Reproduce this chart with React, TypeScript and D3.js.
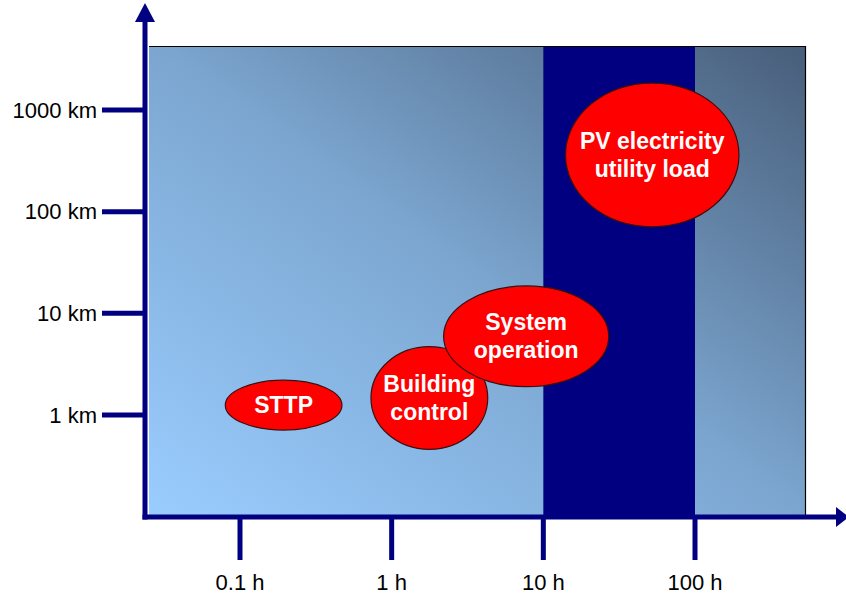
import React, { useEffect, useRef } from 'react';
import * as d3 from 'd3';

// time axis (hours) and distance axis (km), both logarithmic
const timeTicks = [0.1, 1, 10, 100];
const timeLabels = ['0.1 h', '1 h', '10 h', '100 h'];
const distTicks = [1, 10, 100, 1000];
const distLabels = ['1 km', '10 km', '100 km', '1000 km'];

// highlighted time band (hours)
const bandRange = [10, 100];

// application areas: extent in hours and km
const areaNames = [['STTP'], ['Building', 'control'], ['System', 'operation'], ['PV electricity', 'utility load']];
const areaTime = [[0.08, 0.47], [0.73, 4.3], [2.2, 27], [14, 195]];
const areaDist = [[0.71, 2.2], [0.46, 4.7], [1.9, 18.6], [71, 1840]];

const App: React.FC = () => {
  const svgRef = useRef<SVGSVGElement>(null);

  useEffect(() => {
    if (!svgRef.current) return;
    const width = 846;
    const height = 596;
    const navy = '#000080';
    const font = '"Liberation Sans", Arial, sans-serif';

    const svg = d3.select(svgRef.current);
    svg.selectAll('*').remove();

    const x = d3.scaleLog().domain([0.1, 100]).range([240, 695]);
    const y = d3.scaleLog().domain([1, 1000]).range([415, 110]);

    const left = 149;
    const right = 805;
    const top = 46;
    const bottom = 517;

    const defs = svg.append('defs');
    const grad = defs.append('linearGradient')
      .attr('id', 'bg')
      .attr('x1', 0).attr('y1', 1)
      .attr('x2', 1).attr('y2', 0);
    grad.append('stop').attr('offset', '0%').attr('stop-color', '#9acdff');
    grad.append('stop').attr('offset', '50%').attr('stop-color', '#7ca6d0');
    grad.append('stop').attr('offset', '100%').attr('stop-color', '#485e7a');

    // plot background
    svg.append('rect')
      .attr('x', left)
      .attr('y', top)
      .attr('width', right - left)
      .attr('height', bottom - top)
      .attr('fill', 'url(#bg)');

    // time band
    svg.append('rect')
      .attr('x', x(bandRange[0]))
      .attr('y', top)
      .attr('width', x(bandRange[1]) - x(bandRange[0]))
      .attr('height', bottom - top)
      .attr('fill', navy);

    // top and right frame
    svg.append('path')
      .attr('d', `M${left},${top + 0.5}H${right + 0.5}V${bottom}`)
      .attr('fill', 'none')
      .attr('stroke', '#000')
      .attr('stroke-width', 1.2);

    // ellipses
    const g = svg.append('g');
    areaNames.forEach((lines, i) => {
      const x0 = x(areaTime[i][0]);
      const x1 = x(areaTime[i][1]);
      const y0 = y(areaDist[i][1]);
      const y1 = y(areaDist[i][0]);
      const cx = (x0 + x1) / 2;
      const cy = (y0 + y1) / 2;
      g.append('ellipse')
        .attr('cx', cx)
        .attr('cy', cy)
        .attr('rx', (x1 - x0) / 2)
        .attr('ry', (y1 - y0) / 2)
        .attr('fill', '#ff0000')
        .attr('stroke', '#3a1010')
        .attr('stroke-width', 1.2);
      const lh = 28;
      lines.forEach((t, j) => {
        g.append('text')
          .attr('x', cx)
          .attr('y', cy + (j - (lines.length - 1) / 2) * lh)
          .attr('dy', '0.35em')
          .attr('text-anchor', 'middle')
          .attr('font-family', font)
          .attr('font-weight', 'bold')
          .attr('font-size', 23)
          .attr('fill', '#fff')
          .text(t);
      });
    });

    // axes
    const axisX = 145;
    const axisY = 517;
    svg.append('line')
      .attr('x1', axisX).attr('y1', axisY + 2.5)
      .attr('x2', axisX).attr('y2', 18)
      .attr('stroke', navy).attr('stroke-width', 5);
    svg.append('path')
      .attr('d', `M${axisX},3L${axisX + 10},22L${axisX - 10},22Z`)
      .attr('fill', navy);
    svg.append('line')
      .attr('x1', axisX - 2.5).attr('y1', axisY)
      .attr('x2', 840).attr('y2', axisY)
      .attr('stroke', navy).attr('stroke-width', 5);
    svg.append('path')
      .attr('d', `M849,${axisY}L836,${axisY - 10}L836,${axisY + 10}Z`)
      .attr('fill', navy);

    // x ticks
    const xt = svg.append('g');
    timeTicks.forEach((t, i) => {
      xt.append('line')
        .attr('x1', x(t)).attr('x2', x(t))
        .attr('y1', axisY).attr('y2', 560)
        .attr('stroke', navy).attr('stroke-width', 5);
      xt.append('text')
        .attr('x', x(t))
        .attr('y', 590)
        .attr('text-anchor', 'middle')
        .attr('font-family', font)
        .attr('font-size', 22)
        .attr('fill', '#000')
        .text(timeLabels[i]);
    });

    // y ticks
    const yt = svg.append('g');
    distTicks.forEach((d, i) => {
      yt.append('line')
        .attr('x1', 102).attr('x2', axisX)
        .attr('y1', y(d)).attr('y2', y(d))
        .attr('stroke', navy).attr('stroke-width', 5);
      yt.append('text')
        .attr('x', 97)
        .attr('y', y(d))
        .attr('dy', '0.35em')
        .attr('text-anchor', 'end')
        .attr('font-family', font)
        .attr('font-size', 22)
        .attr('fill', '#000')
        .text(distLabels[i]);
    });

    svg.attr('width', width).attr('height', height);
  }, []);

  return (
    <svg
      ref={svgRef}
      width={846}
      height={596}
      viewBox="0 0 846 596"
      style={{ position: 'absolute', left: 0, top: 0, background: '#fff' }}
    />
  );
};

export default App;
